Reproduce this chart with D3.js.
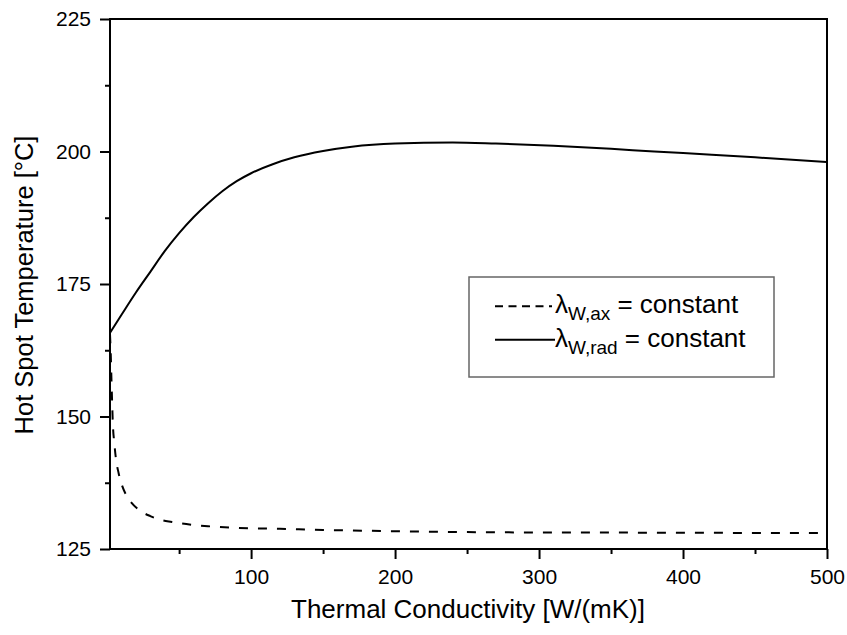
<!DOCTYPE html>
<html>
<head>
<meta charset="utf-8">
<script src="https://cdn.jsdelivr.net/npm/d3@7/dist/d3.min.js"></script>
<style>
  html, body { margin: 0; padding: 0; background: #fff; }
  svg { display: block; font-family: "Liberation Sans", Arial, sans-serif; }
</style>
</head>
<body>
<svg id="chart" width="847" height="635"></svg>
<script>
// ---- data ----
const radX = [2, 10, 20, 30, 40, 50, 60, 70, 80, 90, 100, 115, 130, 150, 170, 200, 240, 270, 310, 350, 380, 420, 450, 500];
const radY = [165.8, 169.2, 173.4, 177.3, 181.2, 184.6, 187.6, 190.2, 192.5, 194.4, 195.9, 197.6, 198.9, 200.1, 200.9, 201.5, 201.7, 201.5, 201.1, 200.5, 200.0, 199.4, 198.9, 198.0];
const axX = [2, 2.5, 3, 3.5, 4, 5, 6, 8, 10, 13, 17, 22, 30, 37, 45, 55, 70, 90, 120, 150, 200, 270, 350, 420, 500];
const axY = [165.5, 162, 157, 152.5, 148.5, 145, 142.3, 139.3, 137.3, 135.3, 133.7, 132.4, 131.2, 130.5, 130.1, 129.7, 129.3, 129.0, 128.8, 128.6, 128.35, 128.15, 128.1, 128.05, 128.0];
const xMajorTicks = [100, 200, 300, 400, 500];
const xMinorTicks = [50, 150, 250, 350, 450];
const yMajorTicks = [125, 150, 175, 200, 225];
const yMinorTicks = [137.5, 162.5, 187.5, 212.5];
const xTitle = "Thermal Conductivity [W/(mK)]";
const yTitle = "Hot Spot Temperature [°C]";
const legendItems = [
  { sub: "W,ax", text: " = constant", dashed: true },
  { sub: "W,rad", text: " = constant", dashed: false }
];

// ---- layout ----
const svg = d3.select("#chart");
const L = 110, R = 827, T = 19, B = 549;
const x = d3.scaleLinear().domain([2, 500]).range([L, R]);
const y = d3.scaleLinear().domain([125, 225]).range([B, T]);

// frame
svg.append("rect").attr("x", L).attr("y", T).attr("width", R - L).attr("height", B - T)
  .attr("fill", "none").attr("stroke", "#000").attr("stroke-width", 2);

// axes
const xAxisMajor = d3.axisBottom(x).tickValues(xMajorTicks).tickSize(10).tickPadding(10).tickFormat(d3.format("d"));
const xAxisMinor = d3.axisBottom(x).tickValues(xMinorTicks).tickSize(5).tickFormat("");
const yAxisMajor = d3.axisLeft(y).tickValues(yMajorTicks).tickSize(10).tickPadding(9).tickFormat(d3.format("d"));
const yAxisMinor = d3.axisLeft(y).tickValues(yMinorTicks).tickSize(5).tickFormat("");

function styleAxis(g) {
  g.select(".domain").remove();
  g.selectAll(".tick line").attr("stroke", "#000").attr("stroke-width", 2);
  g.selectAll(".tick text").attr("fill", "#000").style("font-size", "21px")
    .style("font-family", "'Liberation Sans', Arial, sans-serif");
}
svg.append("g").attr("transform", `translate(0,${B})`).call(xAxisMajor).call(styleAxis);
svg.append("g").attr("transform", `translate(0,${B})`).call(xAxisMinor).call(styleAxis);
svg.append("g").attr("transform", `translate(${L},0)`).call(yAxisMajor).call(styleAxis);
svg.append("g").attr("transform", `translate(${L},0)`).call(yAxisMinor).call(styleAxis);

// titles
svg.append("text").attr("x", 468).attr("y", 618).attr("text-anchor", "middle")
  .style("font-size", "26px").text(xTitle);
svg.append("text").attr("transform", `translate(33,${285}) rotate(-90)`).attr("text-anchor", "middle")
  .style("font-size", "25.5px").text(yTitle);

// lines
const line = d3.line().x(d => x(d[0])).y(d => y(d[1])).curve(d3.curveMonotoneX);
svg.append("path").datum(radX.map((v, i) => [v, radY[i]]))
  .attr("d", line).attr("fill", "none").attr("stroke", "#000").attr("stroke-width", 2);
svg.append("path").datum(axX.map((v, i) => [v, axY[i]]))
  .attr("d", line).attr("fill", "none").attr("stroke", "#000").attr("stroke-width", 2)
  .attr("stroke-dasharray", "9,10");

// legend
const lg = svg.append("g");
lg.append("rect").attr("x", 469).attr("y", 277).attr("width", 305).attr("height", 100)
  .attr("fill", "#fff").attr("stroke", "#666").attr("stroke-width", 1.5);
legendItems.forEach((it, i) => {
  const by = 313 + i * 33.5;
  lg.append("line").attr("x1", 495).attr("x2", it.dashed ? 552 : 555)
    .attr("y1", by - 6.7).attr("y2", by - 6.7)
    .attr("stroke", "#000").attr("stroke-width", 2)
    .attr("stroke-dasharray", it.dashed ? "8,5.5" : null);
  const t = lg.append("text").attr("x", 555).attr("y", by).style("font-size", "26px");
  t.append("tspan").text("λ");
  t.append("tspan").attr("dy", 7).style("font-size", "19px").text(it.sub);
  t.append("tspan").attr("dy", -7).text(it.text);
});
</script>
</body>
</html>
